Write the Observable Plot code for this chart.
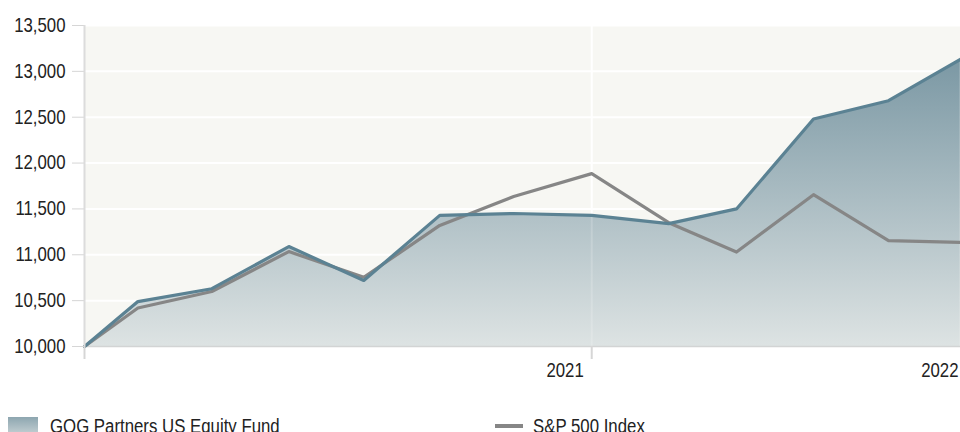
<!DOCTYPE html>
<html>
<head>
<meta charset="utf-8">
<script src="https://cdn.jsdelivr.net/npm/d3@7"></script>
<script src="https://cdn.jsdelivr.net/npm/@observablehq/plot@0.6"></script>
<style>
  html, body { margin: 0; padding: 0; background: #fff; overflow: hidden; }
  body { width: 960px; height: 432px; font-family: "Liberation Sans", Arial, sans-serif; color: #222; }
  #chart svg { display: block; overflow: visible; }
  .legend { position: relative; height: 42px; font-size: 20px; }
  .item { position: absolute; top: 26px; display: flex; align-items: center; white-space: nowrap; line-height: 20px; }
  .sw-area { width: 30px; height: 18px; background: linear-gradient(#8da6b0, #c6d1d4); margin-right: 12px; flex: none; }
  .sw-line { width: 28px; height: 4px; background: #868686; margin-right: 10px; flex: none; }
  .lab { display: inline-block; transform: scaleX(0.84); transform-origin: left center; }
</style>
</head>
<body>
<div id="chart"></div>
<div class="legend">
  <div class="item" style="left:8px"><span class="sw-area"></span><span class="lab" id="l1"></span></div>
  <div class="item" style="left:495px"><span class="sw-line"></span><span class="lab" id="l2"></span></div>
</div>
<script>
// Data
const dates = ["2019-08-26","2019-10-17","2019-12-28","2020-03-12","2020-05-24","2020-08-06","2020-10-17","2021-01-01","2021-03-17","2021-05-22","2021-08-05","2021-10-17","2021-12-26"];
const fundValues = [10000,10490,10630,11090,10720,11430,11450,11430,11340,11500,12480,12680,13130];
const indexValues = [10000,10420,10600,11035,10755,11320,11635,11885,11350,11030,11655,11155,11135];
const seriesNames = ["GQG Partners US Equity Fund", "S&P 500 Index"];
const yTicks = [10000,10500,11000,11500,12000,12500,13000,13500];
const xTickDates = ["2019-08-26","2021-01-01","2022-01-01"];

const parse = d3.utcParse("%Y-%m-%d");
const fund = dates.map((d, i) => ({date: parse(d), value: fundValues[i]}));
const index = dates.map((d, i) => ({date: parse(d), value: indexValues[i]}));
const xTicks = xTickDates.map(parse);
const yearLabel = d => (d.getUTCMonth() === 0 && d.getUTCDate() === 1) ? String(d.getUTCFullYear()) : "";

const plot = Plot.plot({
  width: 960,
  height: 390,
  marginTop: 25,
  marginBottom: 44,
  marginLeft: 84,
  marginRight: 0,
  style: {fontFamily: '"Liberation Sans", Arial, sans-serif', fontSize: "20px", color: "#222", background: "transparent"},
  x: {type: "utc", domain: [xTicks[0], xTicks[2]], range: [84, 966], label: null},
  y: {domain: [10000, 13500], label: null},
  marks: [
    Plot.frame({fill: "#f7f7f3", stroke: null}),
    Plot.gridY(yTicks, {stroke: "#ffffff", strokeOpacity: 1, strokeWidth: 2}),
    Plot.gridX([xTicks[1]], {stroke: "#ffffff", strokeOpacity: 1, strokeWidth: 2}),
    Plot.areaY(fund, {x: "date", y1: 10000, y2: "value", fill: "url(#fundGrad)"}),
    Plot.gridX([xTicks[1]], {stroke: "#ffffff", strokeOpacity: 0.18, strokeWidth: 2}),
    Plot.ruleY([10000], {stroke: "#d2d4d4", strokeWidth: 1.5}),
    Plot.line(index, {x: "date", y: "value", stroke: "#868686", strokeWidth: 3.2}),
    Plot.line(fund, {x: "date", y: "value", stroke: "#5b8293", strokeWidth: 3.2}),
    Plot.axisY(yTicks, {tickSize: 12, tickPadding: 7, stroke: "#d6d6d6", tickFormat: d3.format(","), fill: "#222", label: null}),
    Plot.ruleX([xTicks[0]], {stroke: "#dcdcdc", strokeWidth: 2, y1: 13500, y2: 10000}),
    Plot.axisX(xTicks, {tickSize: 13, stroke: "#d6d6d6", strokeWidth: 2, tickFormat: () => "", label: null}),
    Plot.axisX(xTicks, {tickSize: 0, tickPadding: 16, textAnchor: "end", dx: -8, tickFormat: yearLabel, fill: "#222", label: null})
  ]
});

const defs = d3.select(plot).insert("defs", ":first-child");
const g = defs.append("linearGradient").attr("id", "fundGrad").attr("x1", 0).attr("y1", 0).attr("x2", 0).attr("y2", 1);
g.append("stop").attr("offset", "0%").attr("stop-color", "#7b98a4");
g.append("stop").attr("offset", "100%").attr("stop-color", "#dde3e3");

// condense the text horizontally about its anchor point
d3.select(plot).selectAll("text").each(function() {
  const t = this.getAttribute("transform") || "";
  this.setAttribute("transform", (t + " scale(0.84,1)").trim());
});

document.getElementById("chart").append(plot);
document.getElementById("l1").textContent = seriesNames[0];
document.getElementById("l2").textContent = seriesNames[1];
</script>
</body>
</html>
